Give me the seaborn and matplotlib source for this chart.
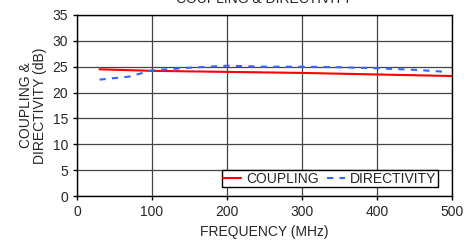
import pandas as pd
import seaborn as sns
import matplotlib.pyplot as plt

freq_coupling = [30, 100, 200, 300, 400, 500]
coupling = [24.5, 24.2, 24.0, 23.8, 23.5, 23.2]

freq_directivity = [30, 70, 100, 150, 200, 250, 300, 350, 400, 450, 493]
directivity = [22.5, 23.1, 24.3, 24.8, 25.2, 25.0, 25.0, 24.9, 24.7, 24.4, 24.0]

sns.set_style('white')
plt.rcParams['font.family'] = ['Liberation Sans', 'DejaVu Sans']

df = pd.concat([
    pd.DataFrame({'freq': freq_coupling, 'val': coupling, 'series': 'COUPLING'}),
    pd.DataFrame({'freq': freq_directivity, 'val': directivity, 'series': 'DIRECTIVITY'}),
])

fig = plt.figure(figsize=(4.77, 2.44), dpi=100)
ax = fig.add_axes([77 / 477, 1 - 196 / 244, 375 / 477, 181 / 244])

sns.lineplot(data=df, x='freq', y='val', hue='series', style='series',
             palette={'COUPLING': '#ff0000', 'DIRECTIVITY': '#3366ff'},
             dashes={'COUPLING': '', 'DIRECTIVITY': (3, 3)},
             linewidth=1.5, ax=ax)

ax.set_xlim(0, 500)
ax.set_ylim(0, 35)
ax.set_xticks(range(0, 501, 100))
ax.set_yticks(range(0, 36, 5))
ax.grid(True, color='#444444', linewidth=0.9)
for s in ax.spines.values():
    s.set_color('black')
    s.set_linewidth(1)
ax.tick_params(axis='both', labelsize=10, direction='out', length=3, width=1, color='black', left=True, bottom=True)

ax.set_xlabel('FREQUENCY (MHz)', fontsize=10)
ax.set_ylabel('COUPLING &\nDIRECTIVITY (dB)', fontsize=10, linespacing=1.0)
fig.text((77 + 375 / 2) / 477, 1.005, 'COUPLING & DIRECTIVITY', ha='center', va='center', fontsize=10)

leg = ax.legend(loc='lower right', bbox_to_anchor=(0.962, 0.05), ncol=2, fontsize=10,
                frameon=True, fancybox=False, edgecolor='black', framealpha=1,
                handlelength=1.3, handletextpad=0.35, columnspacing=0.6,
                borderpad=0.1, borderaxespad=0)
leg.get_frame().set_linewidth(1)
leg.set_title(None)

fig.savefig('out.png', dpi=100)
